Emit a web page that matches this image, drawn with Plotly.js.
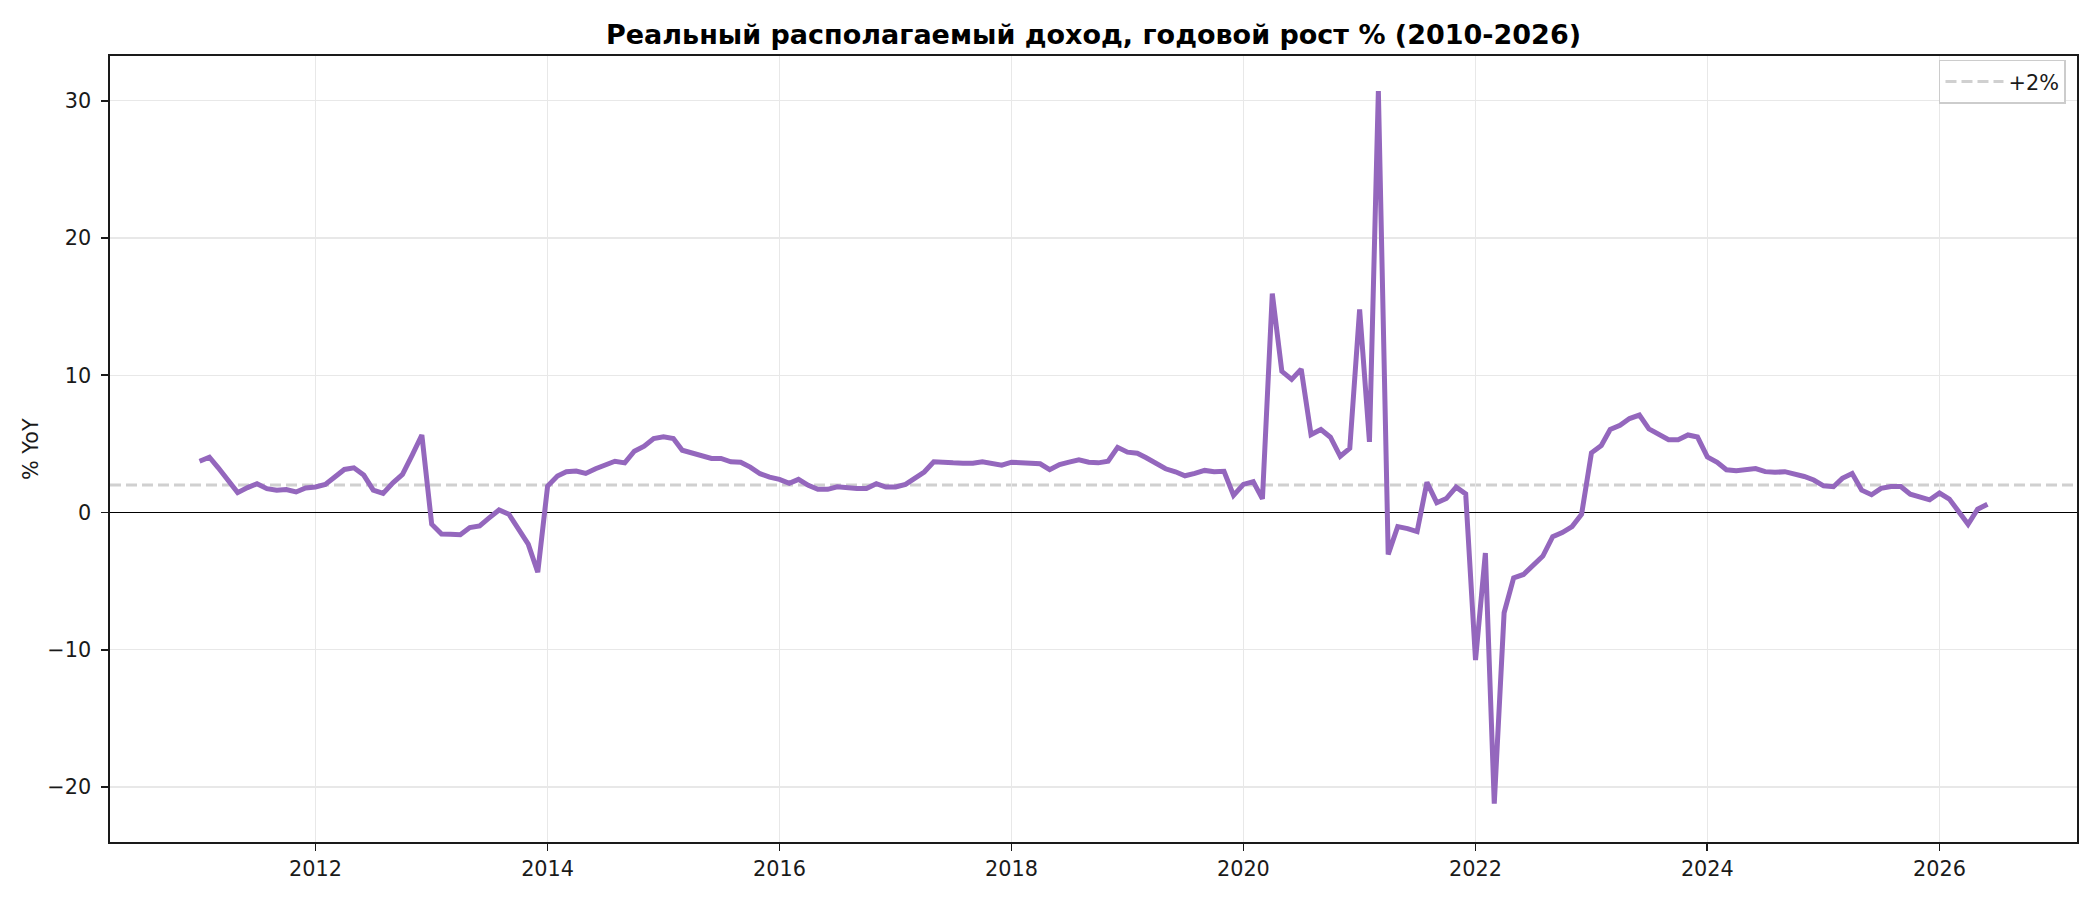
<!DOCTYPE html>
<html>
<head>
<meta charset="utf-8">
<script src="https://cdn.plot.ly/plotly-3.0.1.min.js"></script>
<style>
  html, body { margin: 0; padding: 0; background: white; }
</style>
</head>
<body>
<div id="chart"></div>
<script>
// Real disposable income, YoY % — monthly, Jan 2011 .. Jun 2026
const startYear = 2011;
const yoy2011 = [3.74, 4.03, 3.26, 2.3, 1.45, 1.82, 2.1, 1.74, 1.62, 1.67, 1.5, 1.79];
const yoy2012 = [1.86, 2.05, 2.6, 3.14, 3.26, 2.73, 1.64, 1.4, 2.17, 2.78, 4.2, 5.65];
const yoy2013 = [-0.85, -1.57, -1.58, -1.62, -1.09, -0.97, -0.39, 0.19, -0.12, -1.2, -2.3, -4.35];
const yoy2014 = [1.93, 2.66, 2.97, 3.02, 2.85, 3.19, 3.5, 3.74, 3.62, 4.47, 4.83, 5.39];
const yoy2015 = [5.52, 5.39, 4.54, 4.35, 4.18, 3.94, 3.94, 3.7, 3.67, 3.31, 2.83, 2.58];
const yoy2016 = [2.42, 2.13, 2.42, 1.98, 1.69, 1.69, 1.88, 1.79, 1.76, 1.76, 2.1, 1.86];
const yoy2017 = [1.86, 2.05, 2.46, 2.95, 3.7, 3.7, 3.62, 3.6, 3.6, 3.7, 3.57, 3.45];
const yoy2018 = [3.67, 3.62, 3.6, 3.55, 3.12, 3.5, 3.67, 3.84, 3.67, 3.62, 3.74, 4.75];
const yoy2019 = [4.4, 4.32, 3.99, 3.55, 3.19, 2.97, 2.68, 2.85, 3.07, 2.97, 3.0, 1.25];
const yoy2020 = [2.05, 2.25, 1.0, 15.95, 10.29, 9.7, 10.45, 5.68, 6.05, 5.49, 4.1, 4.68];
const yoy2021 = [14.8, 5.15, 30.7, -3.05, -1.02, -1.17, -1.39, 2.2, 0.72, 1.02, 1.85, 1.36];
const yoy2022 = [-10.75, -2.95, -21.2, -7.3, -4.76, -4.51, -3.9, -3.17, -1.76, -1.46, -1.02, -0.12];
const yoy2023 = [4.35, 4.88, 6.05, 6.35, 6.85, 7.1, 6.1, 5.65, 5.3, 5.3, 5.65, 5.5];
const yoy2024 = [4.05, 3.66, 3.12, 3.05, 3.12, 3.2, 2.98, 2.93, 2.98, 2.85, 2.63, 2.37];
const yoy2025 = [1.95, 1.88, 2.49, 2.85, 1.63, 1.3, 1.76, 1.9, 1.9, 1.34, 1.1, 0.93];
const yoy2026 = [1.42, 0.98, 0.12, -0.85, 0.24, 0.61];

const TARGET = 2;        // dashed reference level, %
const TARGET_LABEL = '+2%';

const yoy = [].concat(yoy2011, yoy2012, yoy2013, yoy2014, yoy2015, yoy2016, yoy2017,
  yoy2018, yoy2019, yoy2020, yoy2021, yoy2022, yoy2023, yoy2024, yoy2025, yoy2026);

// month labels, one per value
const months = yoy.map((v, i) => {
  const y = startYear + Math.floor(i / 12);
  const m = (i % 12) + 1;
  return y + '-' + String(m).padStart(2, '0') + '-01';
});

const FONT = 'DejaVu Sans, Verdana, sans-serif';
const INK = '#1a1a1a';
const TICK_SIZE = 20.8;
const TARGET_STYLE = { color: '#d0d0d0', width: 3, dash: '11px,5px' };

const trace = {
  x: months,
  y: yoy,
  type: 'scatter',
  mode: 'lines',
  name: 'YoY',
  showlegend: false,
  line: { color: '#9467bd', width: 5 },
  hoverinfo: 'x+y'
};

// legend entry for the +2% reference line (the line itself is a layout shape)
const targetKey = {
  x: [null],
  y: [null],
  type: 'scatter',
  mode: 'lines',
  name: TARGET_LABEL,
  showlegend: true,
  hoverinfo: 'skip',
  line: TARGET_STYLE
};

const layout = {
  width: 2100,
  height: 900,
  margin: { l: 110, r: 23, t: 56, b: 58, pad: 0 },
  paper_bgcolor: 'white',
  plot_bgcolor: 'white',
  font: { family: FONT, size: TICK_SIZE, color: INK },
  title: {
    text: 'Реальный располагаемый доход, годовой рост % (2010-2026)',
    font: { family: FONT, size: 27, color: '#000', weight: 'bold' },
    x: 0.5,
    xref: 'paper',
    xanchor: 'center',
    y: 1 - 35 / 900,
    yref: 'container',
    yanchor: 'middle'
  },
  xaxis: {
    type: 'date',
    range: ['2010-03-25', '2027-03-10'],
    autorange: false,
    tick0: '2012-01-01',
    dtick: 'M24',
    tickformat: '%Y',
    showgrid: true,
    gridcolor: '#e8e8e8',
    gridwidth: 1.3,
    zeroline: false,
    showline: true,
    mirror: true,
    linecolor: INK,
    linewidth: 1.7,
    ticks: 'outside',
    ticklen: 7,
    tickwidth: 1.7,
    tickcolor: INK,
    tickfont: { family: FONT, size: TICK_SIZE, color: INK }
  },
  yaxis: {
    range: [-24.0, 33.26],
    autorange: false,
    tick0: 0,
    dtick: 10,
    showgrid: true,
    gridcolor: '#e8e8e8',
    gridwidth: 1.3,
    zeroline: true,
    zerolinecolor: '#000',
    zerolinewidth: 1.2,
    showline: true,
    mirror: true,
    linecolor: INK,
    linewidth: 1.7,
    ticks: 'outside',
    ticklen: 7,
    tickwidth: 1.7,
    tickcolor: INK,
    ticklabelstandoff: 6,
    tickfont: { family: FONT, size: TICK_SIZE, color: INK }
  },
  annotations: [{
    text: '% YoY',
    xref: 'paper', x: -79 / 1967, xanchor: 'center',
    yref: 'paper', y: 0.5, yanchor: 'middle',
    textangle: -90,
    showarrow: false,
    font: { family: FONT, size: TICK_SIZE, color: INK }
  }],
  shapes: [{
    type: 'line',
    xref: 'paper', x0: 0, x1: 1,
    yref: 'y', y0: TARGET, y1: TARGET,
    layer: 'below',
    line: TARGET_STYLE
  }],
  showlegend: true,
  legend: {
    x: 0.9944,
    xanchor: 'right',
    y: 0.995,
    yanchor: 'top',
    itemwidth: 58,
    bgcolor: 'rgba(255,255,255,0.9)',
    bordercolor: '#cccccc',
    borderwidth: 1.5,
    font: { family: FONT, size: TICK_SIZE, color: INK }
  }
};

Plotly.newPlot('chart', [trace, targetKey], layout, { displayModeBar: false, staticPlot: true });
</script>
</body>
</html>
